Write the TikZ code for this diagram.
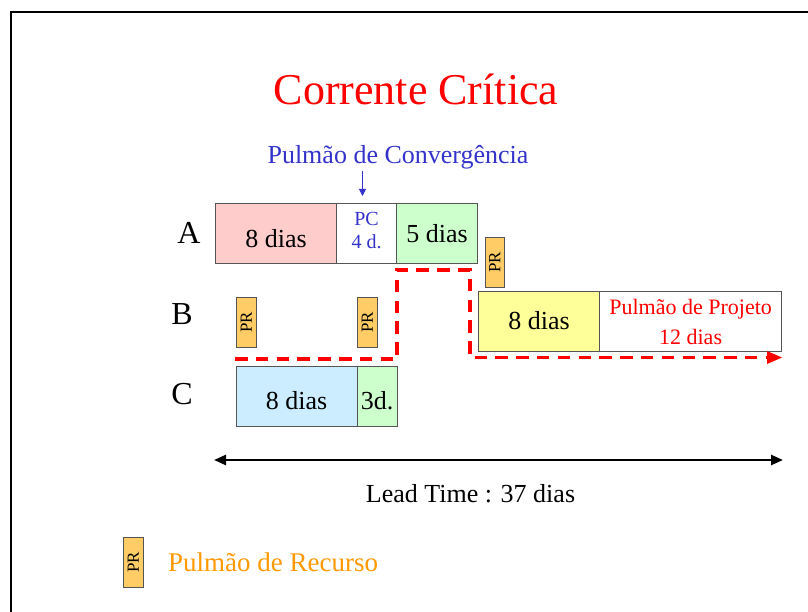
\documentclass[tikz,border=0pt]{standalone}
\usepackage{fontspec}
\setmainfont{Liberation Serif}
\usetikzlibrary{arrows.meta}
\definecolor{redtxt}{HTML}{FF0000}
\definecolor{bluetxt}{HTML}{3333CC}
\definecolor{orangetxt}{HTML}{FF9900}
\definecolor{pinkfill}{HTML}{FFCCCC}
\definecolor{greenfill}{HTML}{CCFFCC}
\definecolor{bluefill}{HTML}{CCECFF}
\definecolor{yellowfill}{HTML}{FFFF99}
\definecolor{prfill}{HTML}{FFCC66}
\definecolor{boxline}{HTML}{555555}
\tikzset{
  task/.style={draw=boxline, line width=1.2pt, anchor=north west, inner sep=0pt,
    minimum height=60pt},
  tasktext/.style={align=center, font=\fontsize{26}{28}\selectfont, inner sep=0pt},
  prbox/.style={draw=boxline, line width=1pt, fill=prfill, anchor=north west, inner sep=0pt,
    minimum width=19.5pt, minimum height=50pt},
  prlabel/.style={rotate=90, font=\fontsize{17}{17}\selectfont, inner sep=0pt},
  rowlabel/.style={font=\fontsize{32}{34}\selectfont},
  chain/.style={draw=redtxt, line width=3.3pt, dash pattern=on 12.5pt off 8.3pt},
}
\begin{document}
\begin{tikzpicture}[x=1pt,y=-1pt]
\useasboundingbox (0,0) rectangle (808,612);
\fill[white] (0,0) rectangle (808,612);
% slide frame
\draw[line width=2.4pt] (11,612) -- (11,12) -- (808,12);

% title
\node[text=redtxt, font=\fontsize{44}{46}\selectfont] (title) at (416,89) {Corrente Crítica};

% convergence buffer caption
\node[text=bluetxt, font=\fontsize{26}{28}\selectfont] (conv) at (398,157) {Pulmão de Convergência};
\coordinate (convtip) at (362.5,196);
\draw[bluetxt, line width=1pt, -{Triangle[length=7pt,width=7pt]}] (362.5,171) -- (convtip);

% row labels
\node[rowlabel] (labA) at (189,233) {A};
\node[rowlabel] (labB) at (182,314) {B};
\node[rowlabel] (labC) at (182,394) {C};

% chain A
\node[task, fill=pinkfill, minimum width=121pt] (a1) at (215,203) {};
\node[tasktext] (a1t) at ([yshift=-5pt]a1.center) {8 dias};
\node[task, fill=white, minimum width=60pt] (pc) at (336,203) {};
\node[tasktext, text=bluetxt, font=\fontsize{20}{23}\selectfont] (pct) at ([yshift=3pt]pc.center) {PC\\4 d.};
\node[task, fill=greenfill, minimum width=81pt] (a2) at (396,203) {};
\node[tasktext] (a2t) at (a2.center) {5 dias};

% chain B
\node[task, fill=yellowfill, minimum width=121pt] (b1) at (478,291) {};
\node[tasktext] (b1t) at ([yshift=1pt]b1.center) {8 dias};
\node[task, fill=white, minimum width=182pt] (pp) at (599,291) {};
\node[tasktext, text=redtxt, font=\fontsize{22}{30}\selectfont] (ppt) at (pp.center) {Pulmão de Projeto\\12 dias};

% chain C
\node[task, fill=bluefill, minimum width=121pt] (c1) at (235.5,365.5) {};
\node[tasktext] (c1t) at ([yshift=-5pt]c1.center) {8 dias};
\node[task, fill=greenfill, minimum width=40pt] (c2) at (356.5,365.5) {};
\node[tasktext] (c2t) at ([yshift=-5pt]c2.center) {3d.};

% resource buffers
\node[prbox] (pr1) at (484.5,237) {};
\node[prlabel] at (pr1.center) {PR};
\node[prbox] (pr2) at (236,297) {};
\node[prlabel] at (pr2.center) {PR};
\node[prbox] (pr3) at (357,297) {};
\node[prlabel] at (pr3.center) {PR};

% critical chain path
\coordinate (k0) at (235,359);
\coordinate (k1) at (397,359);
\coordinate (k2) at (397,270);
\coordinate (k3) at (470,270);
\coordinate (k4) at (470,357.5);
\coordinate (k5) at (782,357.5);
\draw[chain] (k0) -- (k1) -- (k2) -- (k3) -- (k4) -- ([xshift=-14pt]k5);
\fill[redtxt] (k5) -- ++(-15,-6.5) -- ++(0,13) -- cycle;

% lead time
\coordinate (lt0) at (214,460);
\coordinate (lt1) at (783,460);
\draw[line width=2.4pt, {Triangle[length=12pt,width=10pt]}-{Triangle[length=12pt,width=10pt]}] (lt0) -- (lt1);
\node[font=\fontsize{26}{28}\selectfont] (lt) at (470.5,494) {Lead Time : 37 dias};

% legend
\node[prbox] (prleg) at (123,537) {};
\node[prlabel] at (prleg.center) {PR};
\node[text=orangetxt, font=\fontsize{27}{28}\selectfont, anchor=west, inner sep=0pt] (legtxt) at (168,562) {Pulmão de Recurso};
\end{tikzpicture}
\end{document}
